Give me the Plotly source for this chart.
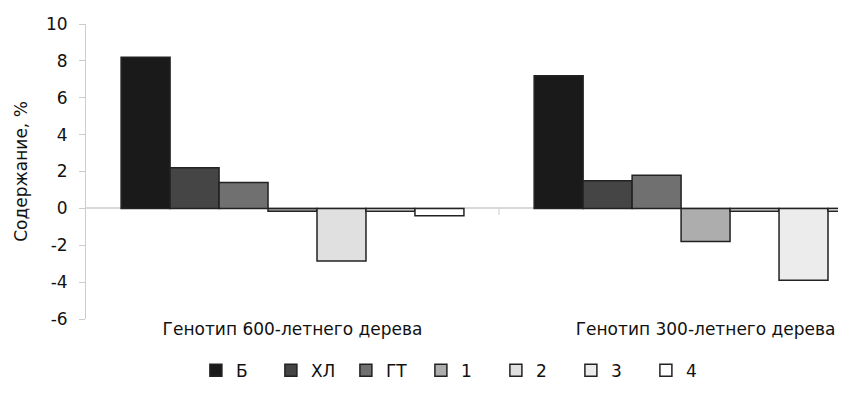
import plotly.graph_objects as go

categories = ["Генотип 600-летнего дерева", "Генотип 300-летнего дерева"]
series_names = ["Б", "ХЛ", "ГТ", "1", "2", "3", "4"]
values_b = [8.2, 7.2]
values_hl = [2.2, 1.5]
values_gt = [1.4, 1.8]
values_1 = [-0.15, -1.8]
values_2 = [-2.85, -0.15]
values_3 = [-0.15, -3.9]
values_4 = [-0.4, -0.15]
colors = ["#1a1a1a", "#454545", "#707070", "#adadad", "#e0e0e0", "#ececec", "#ffffff"]
y_ticks = [10, 8, 6, 4, 2, 0, -2, -4, -6]

all_values = [values_b, values_hl, values_gt, values_1, values_2, values_3, values_4]

fig = go.Figure()
for name, vals, col in zip(series_names, all_values, colors):
    fig.add_trace(go.Bar(
        x=categories, y=vals, name=name,
        marker=dict(color=col, line=dict(color="#222222", width=1.5)),
    ))

FONT = "DejaVu Sans, Verdana, sans-serif"
fig.update_layout(
    width=846, height=397,
    margin=dict(l=78, r=8, t=16, b=86),
    paper_bgcolor="white", plot_bgcolor="white",
    barmode="group", bargap=0.17, bargroupgap=0,
    font=dict(family=FONT, size=17, color="#111111"),
    legend=dict(orientation="h", x=0.49, xanchor="center", y=-0.175, yanchor="middle",
                entrywidth=30, entrywidthmode="pixels", itemwidth=30,
                font=dict(size=17), traceorder="normal"),
    showlegend=True,
)
fig.update_xaxes(
    type="category", range=[-0.5, 1.34], showline=False, showgrid=False,
    ticks="", tickfont=dict(size=17), zeroline=False, automargin=False,
    ticklabelstandoff=-2,
)
fig.update_yaxes(
    range=[-6, 10], tickvals=y_ticks, ticktext=[str(v) for v in y_ticks],
    showgrid=False, showline=True, linecolor="#cccccc", linewidth=1,
    ticks="outside", ticklen=6, tickcolor="#cccccc",
    zeroline=True, zerolinecolor="#d9d9d9", zerolinewidth=1.5,
    title=dict(text="Содержание, %", font=dict(size=17), standoff=14),
    tickfont=dict(size=17), automargin=False, ticklabelstandoff=8,
)
fig.add_shape(type="line", xref="x", yref="y", x0=0.5, x1=0.5, y0=0, y1=-0.35,
              line=dict(color="#cccccc", width=1))

fig.write_html("out.html")
